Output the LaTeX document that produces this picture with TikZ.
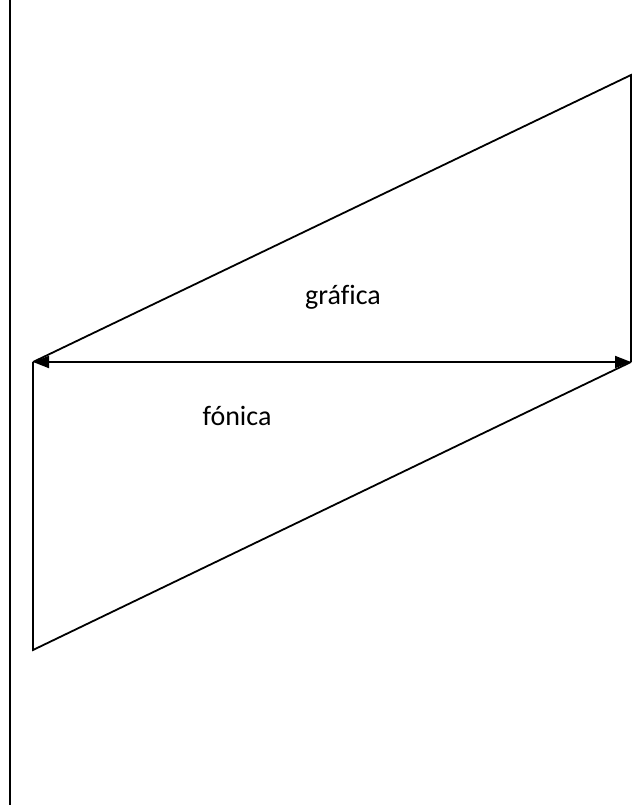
\documentclass[tikz,border=0pt]{standalone}
\usepackage{fontspec}
\setmainfont{Carlito}[Ligatures=NoCommon]
\usetikzlibrary{arrows.meta}

\begin{document}
\begin{tikzpicture}[x=1pt, y=-1pt, >={Triangle[length=16pt, width=12pt]},
  edge/.style={line width=1.8pt, line join=miter},
  label/.style={font=\fontsize{28}{34}\selectfont}]
  \useasboundingbox (0,0) rectangle (636,805);
  % Margen
  \draw[line width=2.2pt] (10,0) -- (10,805);
  % Vértices
  \coordinate (izq) at (33,362);
  \coordinate (der) at (631,362);
  \coordinate (arriba) at (631,75);
  \coordinate (abajo) at (33,650);
  % Paralelogramo
  \draw[edge] (izq) -- (arriba) -- (der);
  \draw[edge] (izq) -- (abajo) -- (der);
  \draw[<->, edge] (izq) -- (der);
  % Rótulos
  \node[label] (grafica) at (343,297) {gráfica};
  \node[label] (fonica) at (237,416) {fónica};
\end{tikzpicture}
\end{document}
